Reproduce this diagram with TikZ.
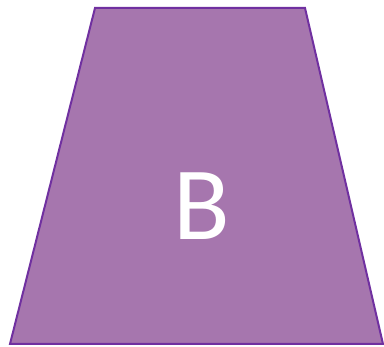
\documentclass[tikz,border=0pt]{standalone}
\usepackage{fontspec}
\setmainfont{Carlito}
\definecolor{pfill}{RGB}{166,118,174}
\definecolor{pline}{RGB}{112,48,160}
\usetikzlibrary{calc}

\begin{document}
\begin{tikzpicture}[
  x=1pt,y=-1pt,
  trap/.style={fill=pfill,draw=pline,line width=2pt,line join=miter},
  lbl/.style={text=white,font=\fontsize{104}{110}\selectfont,inner sep=0pt}
]
  \useasboundingbox (0,0) rectangle (384,347);
  % corners
  \coordinate (tl) at (95,8);
  \coordinate (tr) at (305,8);
  \coordinate (br) at (383,344);
  \coordinate (bl) at (10,344);
  \draw[trap] (tl) -- (tr) -- (br) -- (bl) -- cycle;
  \node[lbl,anchor=base] (b) at (202,240) {B};
\end{tikzpicture}
\end{document}
